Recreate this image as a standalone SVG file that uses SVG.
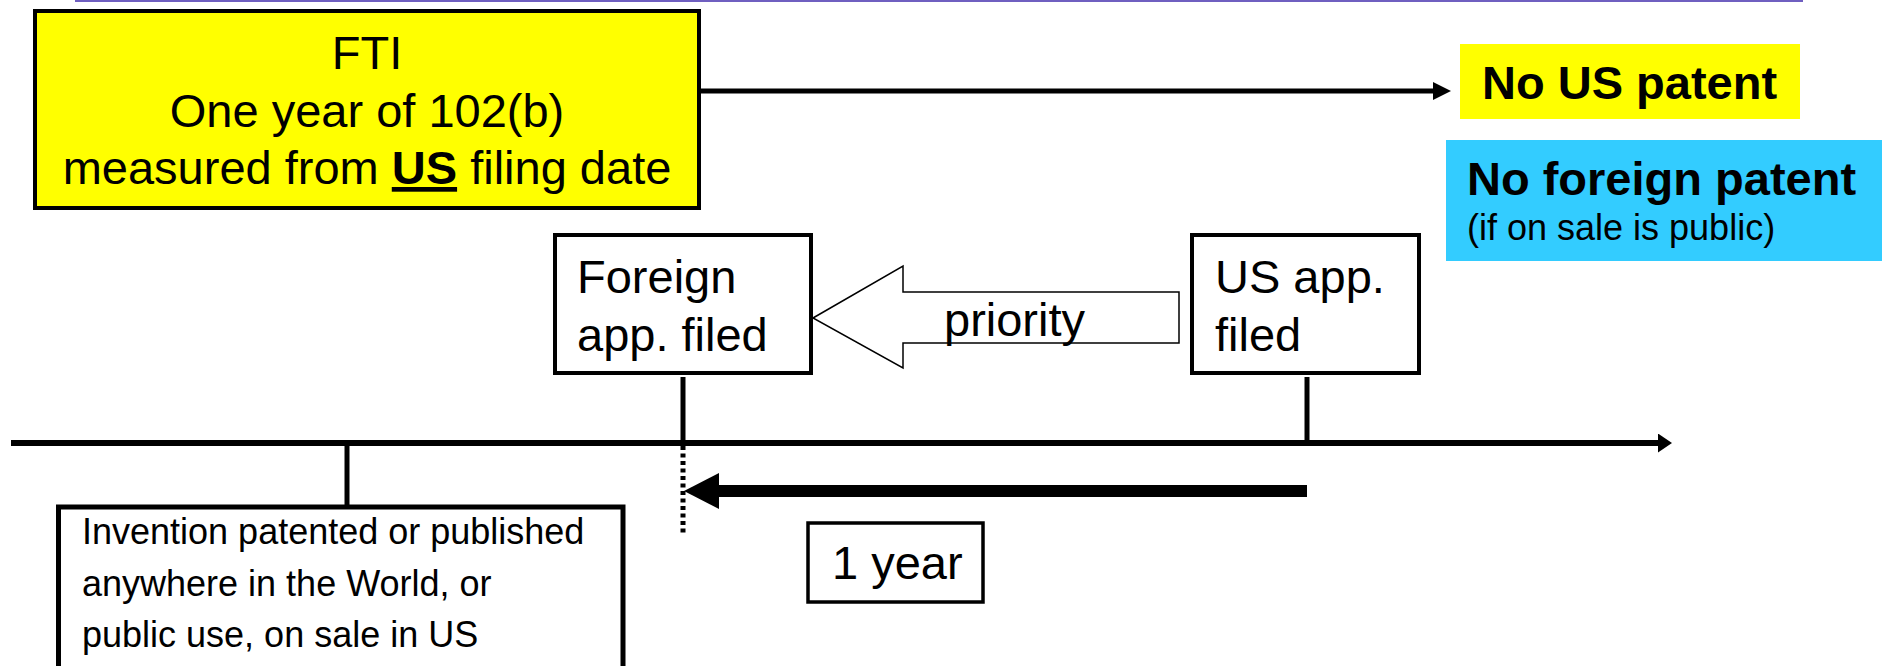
<svg xmlns="http://www.w3.org/2000/svg" width="1890" height="666" viewBox="0 0 1890 666">
<style>
text{font-family:"Liberation Sans",Arial,sans-serif;fill:#000}
.big{font-size:47px}
.bold{font-weight:bold}
.mid{font-size:36px}
.box{fill:#fff;stroke:#000;stroke-width:4}
.ln{stroke:#000;fill:none}
</style>
<defs>
<marker id="hSm" viewBox="0 0 18 18" refX="7" refY="9" markerWidth="18" markerHeight="18" markerUnits="userSpaceOnUse" orient="auto">
<path d="M0,0 L18,9 L0,18 z" fill="#000"/>
</marker>
<marker id="hTl" viewBox="0 0 14 19" refX="4" refY="9.5" markerWidth="14" markerHeight="19" markerUnits="userSpaceOnUse" orient="auto">
<path d="M0,0 L14,9.5 L0,19 z" fill="#000"/>
</marker>
<marker id="hBig" viewBox="0 0 35 36" refX="4" refY="18" markerWidth="35" markerHeight="36" markerUnits="userSpaceOnUse" orient="auto">
<path d="M0,0 L35,18 L0,36 z" fill="#000"/>
</marker>
</defs>
<rect width="1890" height="666" fill="#fff"/>
<line x1="75" y1="1" x2="1803" y2="1" stroke="#6f5fc0" stroke-width="2"/>

<g id="connectors">
<line class="ln" x1="701" y1="91" x2="1440" y2="91" stroke-width="5" marker-end="url(#hSm)"/>
<line class="ln" x1="11" y1="443" x2="1662" y2="443" stroke-width="6" marker-end="url(#hTl)"/>
<line class="ln" x1="683" y1="377" x2="683" y2="443" stroke-width="5"/>
<line class="ln" x1="1307" y1="377" x2="1307" y2="443" stroke-width="5"/>
<line class="ln" x1="347" y1="443" x2="347" y2="506" stroke-width="5"/>
<line class="ln" x1="683" y1="446" x2="683" y2="534" stroke-width="5" stroke-dasharray="4 3.5"/>
<line class="ln" x1="1307" y1="491" x2="715" y2="491" stroke-width="12" marker-end="url(#hBig)"/>
<g id="priority">
<polygon points="813,318 903,266 903,292 1179,292 1179,343 903,343 903,368" fill="#fff" stroke="#000" stroke-width="1.5"/>
<text class="big" x="944" y="336">priority</text>
</g>
</g>

<g id="fti">
<rect x="35" y="11" width="664" height="197" fill="#ffff00" stroke="#000" stroke-width="4"/>
<text class="big" x="367" y="69" text-anchor="middle">FTI</text>
<text class="big" x="367" y="127" text-anchor="middle">One year of 102(b)</text>
<text class="big" x="367" y="184" text-anchor="middle">measured from <tspan class="bold" text-decoration="underline">US</tspan> filing date</text>
</g>

<g id="no-us-patent">
<rect x="1460" y="44" width="340" height="75" fill="#ffff00"/>
<text class="big bold" x="1482" y="99">No US patent</text>
</g>

<g id="no-foreign-patent">
<rect x="1446" y="140" width="436" height="121" fill="#33ccff"/>
<text class="big bold" x="1467" y="195">No foreign patent</text>
<text class="mid" x="1467" y="240">(if on sale is public)</text>
</g>

<g id="foreign-app">
<rect class="box" x="555" y="235" width="256" height="138"/>
<text class="big" x="577" y="293">Foreign</text>
<text class="big" x="577" y="351">app. filed</text>
</g>

<g id="us-app">
<rect class="box" x="1192" y="235" width="227" height="138"/>
<text class="big" x="1215" y="293">US app.</text>
<text class="big" x="1215" y="351">filed</text>
</g>

<g id="invention">
<rect x="58.5" y="507" width="564.5" height="175" fill="#fff" stroke="#000" stroke-width="5"/>
<text class="mid" x="82" y="544">Invention patented or published</text>
<text class="mid" x="82" y="596">anywhere in the World, or</text>
<text class="mid" x="82" y="647">public use, on sale in US</text>
</g>

<g id="one-year">
<rect x="808" y="523" width="175" height="79" fill="#fff" stroke="#000" stroke-width="3.5"/>
<text class="big" x="832" y="579">1 year</text>
</g>
</svg>
